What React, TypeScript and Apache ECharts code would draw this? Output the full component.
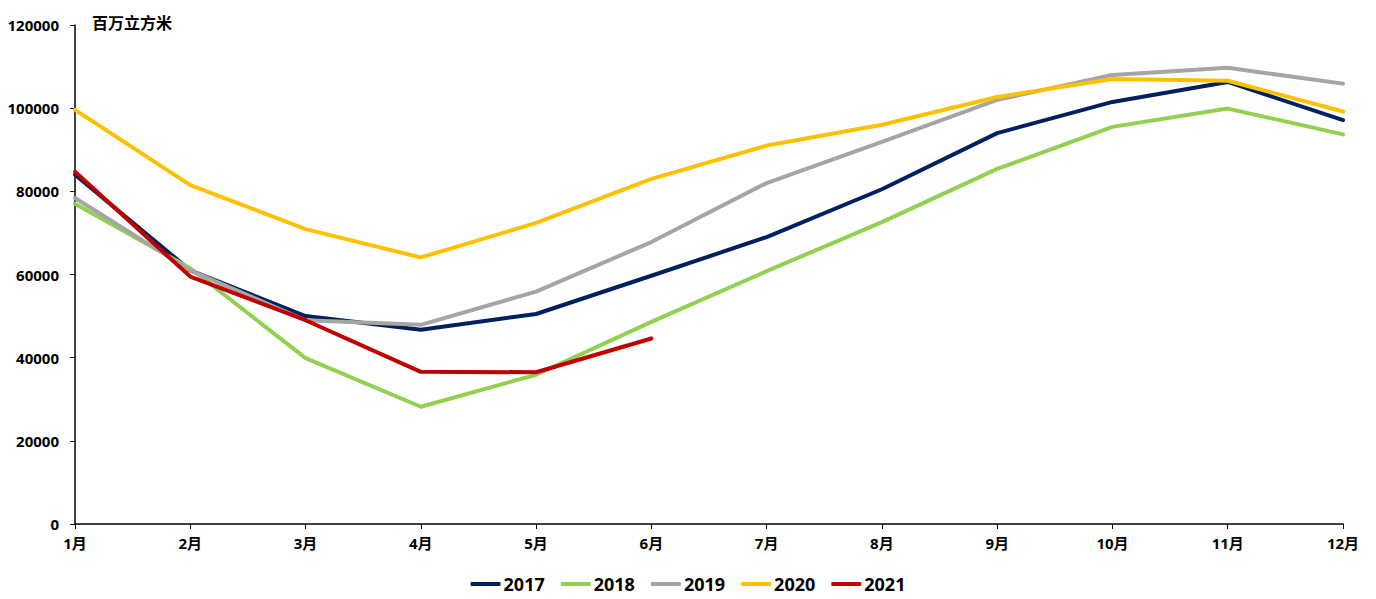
import React, { useEffect, useRef } from "react";
import * as echarts from "echarts";

const months = ["1月", "2月", "3月", "4月", "5月", "6月", "7月", "8月", "9月", "10月", "11月", "12月"];
const s2017 = [84000, 61000, 50000, 46700, 50500, 59700, 69000, 80500, 94000, 101500, 106300, 97100];
const s2018 = [77000, 61500, 39900, 28200, 35900, 48600, 60800, 72600, 85400, 95500, 99900, 93700];
const s2019 = [78400, 61000, 49000, 47900, 55900, 67800, 82000, 91900, 102000, 108000, 109700, 105900];
const s2020 = [99600, 81500, 70900, 64100, 72400, 83000, 91000, 96000, 102700, 107000, 106600, 99200];
const s2021 = [84700, 59500, 49000, 36600, 36500, 44600];
const seriesNames = ["2017", "2018", "2019", "2020", "2021"];
const seriesColors = ["#002060", "#92D050", "#A5A5A5", "#FFC000", "#C00000"];
const unitLabel = "百万立方米";

const FONT = "'Noto Sans', 'Noto Sans CJK SC', sans-serif";

export default function App() {
  const ref = useRef<HTMLDivElement>(null);
  useEffect(() => {
    if (!ref.current) return;
    const chart = echarts.init(ref.current, undefined, { renderer: "svg" });
    const data = [s2017, s2018, s2019, s2020, s2021];
    chart.setOption({
      animation: false,
      backgroundColor: "#ffffff",
      grid: { left: 75, right: 33, top: 25, bottom: 75, containLabel: false },
      legend: {
        bottom: 1,
        left: "center",
        itemWidth: 30,
        itemHeight: 4,
        itemGap: 16,
        icon: "roundRect",
        textStyle: { fontFamily: FONT, fontWeight: "bold", fontSize: 18, color: "#000", padding: [0, 0, 0, -2] },
        data: seriesNames,
      },
      graphic: [
        {
          type: "text",
          left: 92,
          top: 15,
          style: { text: unitLabel, font: `bold 16px ${FONT}`, fill: "#000" },
        },
      ],
      xAxis: {
        type: "category",
        data: months,
        boundaryGap: false,
        axisLine: { lineStyle: { color: "#000", width: 1.5 } },
        axisTick: { show: true, length: 5, lineStyle: { color: "#000" } },
        axisLabel: { color: "#000", fontFamily: FONT, fontWeight: "bold", fontSize: 15, margin: 11, interval: 0 },
        splitLine: { show: false },
      },
      yAxis: {
        type: "value",
        min: 0,
        max: 120000,
        interval: 20000,
        axisLine: { show: true, lineStyle: { color: "#000", width: 1.5 } },
        axisTick: { show: true, length: 5, lineStyle: { color: "#000" } },
        axisLabel: {
          color: "#000",
          fontFamily: FONT,
          fontWeight: "bold",
          fontSize: 15,
          margin: 16,
          formatter: (v: number) => String(v),
        },
        splitLine: { show: false },
      },
      series: seriesNames.map((name, i) => ({
        name,
        type: "line",
        data: data[i],
        symbol: "none",
        showSymbol: false,
        lineStyle: { color: seriesColors[i], width: 4, cap: "round", join: "round" },
        itemStyle: { color: seriesColors[i] },
        z: 2 + i,
      })),
    });
    return () => chart.dispose();
  }, []);
  return (
    <div
      ref={ref}
      style={{ position: "fixed", left: 0, top: 0, width: 1376, height: 599 }}
    />
  );
}
